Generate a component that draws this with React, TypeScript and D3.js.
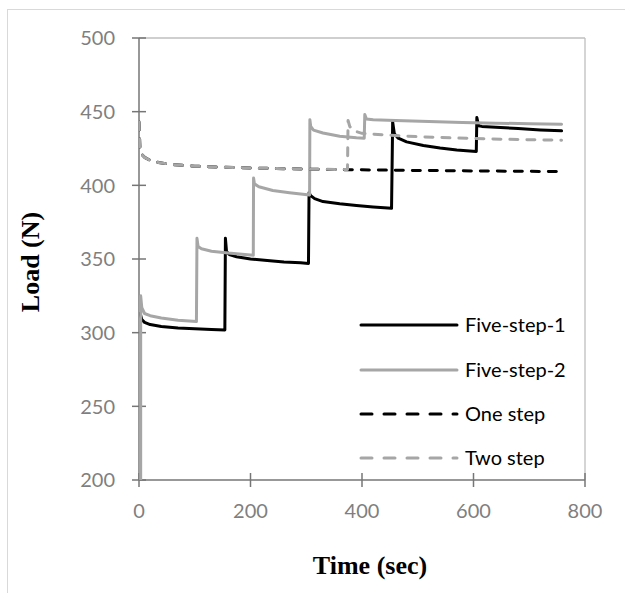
import React from "react";
import * as d3 from "d3";

const xTicks = [0, 200, 400, 600, 800];
const yTicks = [200, 250, 300, 350, 400, 450, 500];

const seriesNames = ["Five-step-1", "Five-step-2", "One step", "Two step"];

const fiveStep1: [number, number][] = [
  [2, 313], [5, 309], [10, 307], [20, 305.5], [40, 304.2], [70, 303.2], [100, 302.6], [130, 302.2], [154, 301.8],
  [155, 364], [157, 355], [162, 353], [175, 351.5], [200, 350], [230, 349], [260, 348], [290, 347.4], [304, 347],
  [305, 395], [308, 393], [315, 391], [330, 389], [360, 387.5], [390, 386.3], [420, 385.3], [453, 384.4],
  [455, 443], [458, 435], [465, 432], [480, 429.5], [510, 427], [540, 425.3], [570, 424], [605, 423],
  [606, 446], [609, 440.5], [615, 440], [640, 439.5], [680, 438.5], [720, 437.6], [758, 437],
];

const fiveStep2: [number, number][] = [
  [3, 200], [3, 325], [5, 317], [10, 313], [20, 311.5], [40, 310], [70, 308.5], [103, 307.5],
  [104, 364], [106, 358.5], [112, 357], [130, 355.3], [160, 354], [205, 352.5],
  [205.5, 405], [207, 401], [215, 399], [240, 396.5], [270, 395], [306, 393.5],
  [306.5, 444.5], [308, 440], [313, 437.5], [330, 435.5], [360, 433.3], [390, 432.3], [404, 432],
  [405, 448], [408, 445], [420, 444.5], [460, 444], [520, 443.3], [580, 442.6], [640, 442.2], [700, 441.8], [758, 441.4],
];

const oneStep: [number, number][] = [
  [0, 443], [1, 432], [2, 423], [5, 421], [10, 419], [20, 417], [35, 415.5], [60, 414], [100, 413],
  [150, 412.3], [200, 411.8], [300, 411], [400, 410.5], [500, 410.1], [600, 409.8], [700, 409.5], [758, 409.3],
];

const twoStep: [number, number][] = [
  [0, 443], [1, 432], [2, 423], [5, 421], [10, 419], [20, 417], [35, 415.5], [60, 414], [100, 413],
  [150, 412.3], [200, 411.8], [300, 411], [374, 410.7],
  [375, 444], [378, 440], [385, 437], [400, 435.3], [450, 434], [500, 433], [560, 432.2], [620, 431.6], [690, 431], [758, 430.6],
];

const BLACK = "#000000";
const GRAY = "#a6a6a6";
const AXIS = "#767676";
const LABEL = "#7f7f7f";
const FONT = "Lato, 'Liberation Sans', sans-serif";

export default function App() {
  const W = 625, H = 593;
  const left = 139, right = 585, top = 38, bottom = 480;
  const x = d3.scaleLinear().domain([0, 800]).range([left, right]);
  const y = d3.scaleLinear().domain([200, 500]).range([bottom, top]);
  const line = d3.line<[number, number]>().x(d => x(d[0])).y(d => y(d[1]));

  const series = [
    { name: seriesNames[0], data: fiveStep1, color: BLACK, dash: undefined as string | undefined, ldash: undefined as string | undefined },
    { name: seriesNames[1], data: fiveStep2, color: GRAY, dash: undefined, ldash: undefined },
    { name: seriesNames[2], data: oneStep, color: BLACK, dash: "8 9", ldash: "11 12" },
    { name: seriesNames[3], data: twoStep, color: GRAY, dash: "8 9", ldash: "11 12" },
  ];

  const legendY = [325, 370, 414, 458];

  return (
    <svg width={W} height={H} style={{ position: "absolute", left: 0, top: 0, background: "#fff" }}>
      <rect x={7.5} y={9.5} width={700} height={700} fill="#fff" stroke="#d9d9d9" strokeWidth={1} />
      <defs>
        <clipPath id="plotclip">
          <rect x={left} y={top - 2} width={right - left} height={bottom - top + 2} />
        </clipPath>
      </defs>
      <line x1={left} x2={right} y1={top} y2={top} stroke="#bfbfbf" strokeWidth={1.3} />
      <line x1={right} x2={right} y1={top} y2={bottom} stroke="#bfbfbf" strokeWidth={1.3} />
      <line x1={left} x2={left} y1={top} y2={bottom} stroke={AXIS} strokeWidth={1.5} />
      <line x1={left} x2={right} y1={bottom} y2={bottom} stroke={AXIS} strokeWidth={1.5} />
      {yTicks.map(t => (
        <g key={"y" + t}>
          <line x1={left - 7} x2={left + 7} y1={y(t)} y2={y(t)} stroke={AXIS} strokeWidth={1.5} />
          <text x={115} y={y(t)} dy="0.36em" textAnchor="end" fontFamily={FONT} fontSize={20} fill={LABEL}>{t}</text>
        </g>
      ))}
      {xTicks.map(t => (
        <g key={"x" + t}>
          <line x1={x(t)} x2={x(t)} y1={bottom - 7} y2={bottom + 7} stroke={AXIS} strokeWidth={1.5} />
          <text x={x(t)} y={518} textAnchor="middle" fontFamily={FONT} fontSize={20} fill={LABEL}>{t}</text>
        </g>
      ))}
      <g clipPath="url(#plotclip)">
        {series.map(s => (
          <path key={s.name} d={line(s.data) || ""} fill="none" stroke={s.color} strokeWidth={3}
            strokeDasharray={s.dash} strokeLinecap="round" strokeLinejoin="round" />
        ))}
      </g>
      {series.map((s, i) => (
        <g key={"lg" + s.name}>
          <line x1={361} x2={457} y1={legendY[i]} y2={legendY[i]} stroke={s.color} strokeWidth={3}
            strokeDasharray={s.ldash} strokeLinecap="round" />
          <text x={465} y={legendY[i]} dy="0.36em" fontFamily={FONT} fontSize={20} fill="#000">{s.name}</text>
        </g>
      ))}
      <text x={370} y={574} textAnchor="middle" fontFamily="'Liberation Serif', 'Times New Roman', serif" fontWeight="bold" fontSize={26} fill="#000">Time (sec)</text>
      <text transform={`translate(39,262) rotate(-90)`} textAnchor="middle" fontFamily="'Liberation Serif', 'Times New Roman', serif" fontWeight="bold" fontSize={26} fill="#000">Load (N)</text>
    </svg>
  );
}
